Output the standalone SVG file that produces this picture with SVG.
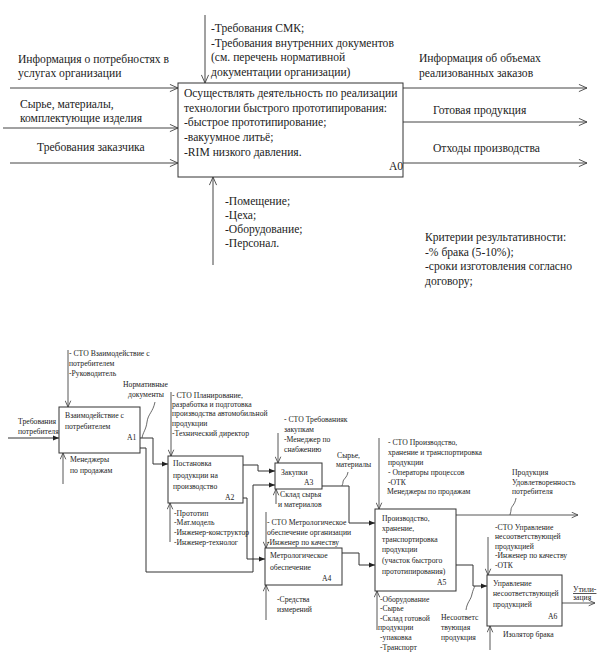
<svg xmlns="http://www.w3.org/2000/svg" width="607" height="657" viewBox="0 0 607 657">
<style>
text{font-family:"Liberation Serif","Times New Roman",serif;fill:#222}
.t{font-size:11.6px}
.s{font-size:7.7px}
.box{fill:#fff;stroke:#333;stroke-width:1}
.ln{fill:none;stroke:#444;stroke-width:1}
.lo{fill:none;stroke:#444;stroke-width:1;marker-end:url(#open)}
.lf{fill:none;stroke:#333;stroke-width:1;marker-end:url(#fill)}
.lso{fill:none;stroke:#444;stroke-width:0.9;marker-end:url(#open2)}
.sq{fill:none;stroke:#444;stroke-width:0.8}
</style>
<defs>
<marker id="open" viewBox="0 0 10 10" refX="10" refY="5" markerWidth="9" markerHeight="9" orient="auto" markerUnits="userSpaceOnUse"><path d="M1,1 L10,5 L1,9" fill="none" stroke="#444" stroke-width="1"/></marker>
<marker id="open2" viewBox="0 0 10 10" refX="10" refY="5" markerWidth="7" markerHeight="7" orient="auto" markerUnits="userSpaceOnUse"><path d="M1,1 L10,5 L1,9" fill="none" stroke="#444" stroke-width="1.2"/></marker>
<marker id="fill" viewBox="0 0 10 10" refX="10" refY="5" markerWidth="6" markerHeight="6" orient="auto" markerUnits="userSpaceOnUse"><path d="M0,1 L10,5 L0,9 Z" fill="#222"/></marker>
</defs>
<rect width="607" height="657" fill="#fff"/>

<g id="connectors">
<!-- top diagram -->
<path class="lo" d="M10,88 H178"/>
<path class="lo" d="M3,128 H178"/>
<path class="lo" d="M10,163 H178"/>
<path class="lo" d="M403,88 H587"/>
<path class="lo" d="M403,122 H587"/>
<path class="lo" d="M403,163 H587"/>
<path class="lo" d="M205,15 V83"/>
<path class="lo" d="M213,265 V177"/>
<!-- bottom diagram -->
<path class="lf" d="M8,438 H59"/>
<path class="lso" d="M68,350 V407"/>
<path class="lso" d="M63,484 V453"/>
<path class="lf" d="M140,438 H153 V464 H168"/>
<path class="lf" d="M140,448 H146 V572 H253 V485 H275"/>
<path class="sq" d="M155,402 C153,412 148,414 147,422 C146,430 143,432 142,438"/>
<path class="lso" d="M171,392 V456"/>
<path class="lso" d="M170,542 V503"/>
<path class="lf" d="M243,465 H258 V471 H275"/>
<path class="lf" d="M243,498 H247 V559 H265"/>
<path class="lso" d="M278,433 V463"/>
<path class="lso" d="M276,504 V489"/>
<path class="lf" d="M322,486 H349 V523 H375"/>
<path class="sq" d="M348,472 C347,478 343,479 343,482 C343,484 342,485 342,486"/>
<path class="lso" d="M266,512 V548"/>
<path class="lso" d="M266,620 V585"/>
<path class="lf" d="M342,553 H359 V565 H375"/>
<path class="lso" d="M379,438 V509"/>
<path class="lso" d="M377,630 V591"/>
<path class="lso" d="M456,515 H578"/>
<path class="sq" d="M516,498 C515,505 511,506 511,510 C511,512 510,514 510,515"/>
<path class="lf" d="M456,565 H473 V586 H487"/>
<path class="sq" d="M466,610 C467,602 471,600 472,594 C473,590 474,588 475,586"/>
<path class="lso" d="M488,537 V575"/>
<path class="lso" d="M490,650 V626"/>
<path class="lso" d="M562,603 H595"/>
</g>

<g id="labels-top">
<text class="t" x="211" y="32">-Требования СМК;</text>
<text class="t" x="211" y="46.5">-Требования внутренних документов</text>
<text class="t" x="211" y="61">(см. перечень нормативной</text>
<text class="t" x="211" y="75.5">документации организации)</text>
<text class="t" x="18" y="63">Информация о потребностях в</text>
<text class="t" x="18" y="77">услугах организации</text>
<text class="t" x="20" y="108">Сырье, материалы,</text>
<text class="t" x="20" y="122">комплектующие изделия</text>
<text class="t" x="37" y="151">Требования заказчика</text>
<text class="t" x="419" y="62">Информация об объемах</text>
<text class="t" x="419" y="77">реализованных заказов</text>
<text class="t" x="433" y="114">Готовая продукция</text>
<text class="t" x="433" y="152">Отходы производства</text>
<text class="t" x="225" y="205">-Помещение;</text>
<text class="t" x="225" y="219">-Цеха;</text>
<text class="t" x="225" y="233">-Оборудование;</text>
<text class="t" x="225" y="247">-Персонал.</text>
<text class="t" x="425" y="241">Критерии результативности:</text>
<text class="t" x="425" y="256">-% брака (5-10%);</text>
<text class="t" x="425" y="270">-сроки изготовления согласно</text>
<text class="t" x="425" y="285">договору;</text>
</g>

<g id="A0">
<rect class="box" x="178" y="83" width="225" height="94"/>
<text class="t" x="184" y="97">Осуществлять деятельность по реализации</text>
<text class="t" x="184" y="112">технологии быстрого прототипирования:</text>
<text class="t" x="184" y="126">-быстрое прототипирование;</text>
<text class="t" x="184" y="141">-вакуумное литьё;</text>
<text class="t" x="184" y="156">-RIM низкого давления.</text>
<text class="t" x="389" y="170">A0</text>
</g>

<g id="labels-bottom">
<text class="s" x="69" y="356">- СТО Взаимодействие с</text>
<text class="s" x="69" y="366">потребителем</text>
<text class="s" x="69" y="376">-Руководитель</text>
<text class="s" x="123" y="387">Нормативные</text>
<text class="s" x="128" y="397">документы</text>
<text class="s" x="18" y="424">Требования</text>
<text class="s" x="18" y="434">потребителя</text>
<text class="s" x="70" y="462">Менеджеры</text>
<text class="s" x="70" y="473">по продажам</text>
<text class="s" x="172" y="398">- СТО Планирование,</text>
<text class="s" x="172" y="407">разработка и подготовка</text>
<text class="s" x="172" y="416">производства автомобильной</text>
<text class="s" x="172" y="426">продукции</text>
<text class="s" x="172" y="436">-Технический директор</text>
<text class="s" x="174" y="516">-Прототип</text>
<text class="s" x="174" y="525">-Мат.модель</text>
<text class="s" x="174" y="535">-Инженер-конструктор</text>
<text class="s" x="174" y="545">-Инженер-технолог</text>
<text class="s" x="284" y="422">- СТО Требованияк</text>
<text class="s" x="284" y="432">закупкам</text>
<text class="s" x="284" y="442">-Менеджер по</text>
<text class="s" x="284" y="452">снабжению</text>
<text class="s" x="280" y="497">Склад сырья</text>
<text class="s" x="278" y="507">и материалов</text>
<text class="s" x="337" y="458">Сырье,</text>
<text class="s" x="336" y="467">материалы</text>
<text class="s" x="267" y="525">- СТО Метрологическое</text>
<text class="s" x="267" y="535">обеспечение организации</text>
<text class="s" x="267" y="545">-Инженер по качеству</text>
<text class="s" x="277" y="602">-Средства</text>
<text class="s" x="277" y="612">измерений</text>
<text class="s" x="388" y="445">- СТО Производство,</text>
<text class="s" x="388" y="455">хранение и транспортировка</text>
<text class="s" x="388" y="465">продукции</text>
<text class="s" x="388" y="475">- Операторы процессов</text>
<text class="s" x="388" y="485">-ОТК</text>
<text class="s" x="387" y="494">Менеджеры по продажам</text>
<text class="s" x="380" y="602">-Оборудование</text>
<text class="s" x="380" y="611">-Сырье</text>
<text class="s" x="380" y="621">-Склад готовой</text>
<text class="s" x="378" y="630">продукции</text>
<text class="s" x="380" y="640">-упаковка</text>
<text class="s" x="380" y="650">-Транспорт</text>
<text class="s" x="512" y="475">Продукция</text>
<text class="s" x="512" y="485">Удовлетворенность</text>
<text class="s" x="512" y="494">потребителя</text>
<text class="s" x="441" y="620">Несоответс</text>
<text class="s" x="441" y="630">твующая</text>
<text class="s" x="441" y="640">продукция</text>
<text class="s" x="495" y="530">-СТО Управление</text>
<text class="s" x="495" y="539">несоответствующей</text>
<text class="s" x="495" y="549">продукцией</text>
<text class="s" x="495" y="558">-Инженер по качеству</text>
<text class="s" x="495" y="568">-ОТК</text>
<text class="s" x="503" y="637">Изолятор брака</text>
<text class="s" x="573" y="592" text-decoration="underline">Утили-</text>
<text class="s" x="573" y="600">зация</text>
</g>

<g id="A1">
<rect class="box" x="59" y="407" width="81" height="46"/>
<text class="s" x="65" y="418">Взаимодействие с</text>
<text class="s" x="65" y="429">потребителем</text>
<text class="s" x="127" y="440">A1</text>
</g>
<g id="A2">
<rect class="box" x="168" y="456" width="75" height="47"/>
<text class="s" x="173" y="466">Постановка</text>
<text class="s" x="173" y="478">продукции на</text>
<text class="s" x="173" y="489">производство</text>
<text class="s" x="225" y="500">A2</text>
</g>
<g id="A3">
<rect class="box" x="275" y="463" width="47" height="26"/>
<text class="s" x="281" y="475">Закупки</text>
<text class="s" x="304" y="485">A3</text>
</g>
<g id="A4">
<rect class="box" x="265" y="548" width="77" height="37"/>
<text class="s" x="270" y="558">Метрологическое</text>
<text class="s" x="270" y="570">обеспечение</text>
<text class="s" x="322" y="581">A4</text>
</g>
<g id="A5">
<rect class="box" x="375" y="509" width="81" height="82"/>
<text class="s" x="382" y="521">Производство,</text>
<text class="s" x="382" y="531">хранение,</text>
<text class="s" x="382" y="542">транспортировка</text>
<text class="s" x="382" y="552">продукции</text>
<text class="s" x="382" y="563">(участок быстрого</text>
<text class="s" x="382" y="574">прототипирования)</text>
<text class="s" x="437" y="585">A5</text>
</g>
<g id="A6">
<rect class="box" x="487" y="575" width="75" height="51"/>
<text class="s" x="493" y="586">Управление</text>
<text class="s" x="493" y="596">несоответствующей</text>
<text class="s" x="493" y="607">продукцией</text>
<text class="s" x="548" y="619">A6</text>
</g>
</svg>
